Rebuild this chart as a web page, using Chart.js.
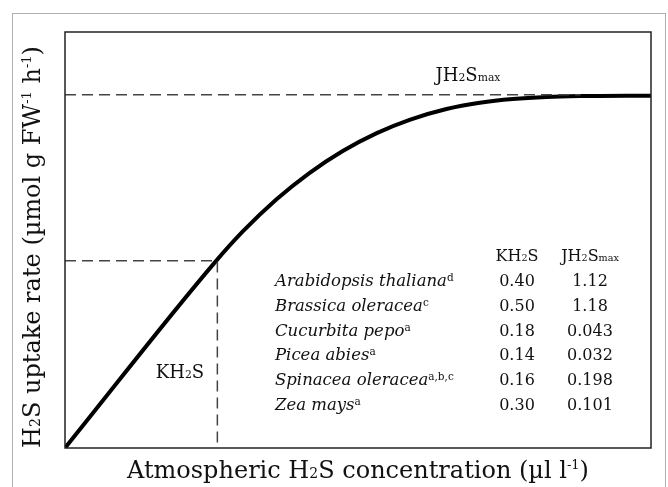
<!DOCTYPE html>
<html lang="en">
<head>
<meta charset="UTF-8">
<title>H2S uptake kinetics</title>
<script src="https://cdn.jsdelivr.net/npm/chart.js"></script>
<style>
  html, body { margin: 0; padding: 0; background: #fff; }
  #wrap { width: 668px; height: 487px; }
</style>
</head>
<body>
<div id="wrap"><canvas id="chart" width="668" height="487"></canvas></div>
<script>
// saturation curve (x and y in % of axis range)
const curveX = [0, 25.5, 30.3, 36.1, 41.7, 47.4, 53.2, 58.8, 65.1, 70.8, 76.4, 82.2, 87.9, 100];
const curveY = [0, 44.5, 52.0, 59.8, 66.1, 71.4, 75.7, 78.9, 81.5, 83.0, 83.9, 84.4, 84.6, 84.7];
const kmX = 26.0;
const kmY = 45.0;
const jmaxY = 84.9;
const jmaxDashEnd = 88;

// table of constants
const species = ['Arabidopsis thaliana', 'Brassica oleracea', 'Cucurbita pepo', 'Picea abies', 'Spinacea oleracea', 'Zea mays'];
const refs = ['d', 'c', 'a', 'a', 'a,b,c', 'a'];
const kValues = ['0.40', '0.50', '0.18', '0.14', '0.16', '0.30'];
const jValues = ['1.12', '1.18', '0.043', '0.032', '0.198', '0.101'];

const FONT = '"DejaVu Serif", "Liberation Serif", serif';

// draws a row of text pieces: [text, size, italic, dy]
function drawRuns(ctx, runs, x, y, align) {
    let total = 0;
    runs.forEach(r => {
        ctx.font = (r[2] ? 'italic ' : '') + r[1] + 'px ' + FONT;
        r.w = ctx.measureText(r[0]).width;
        total += r.w;
    });
    let cx = align === 'center' ? x - total / 2 : (align === 'right' ? x - total : x);
    runs.forEach(r => {
        ctx.font = (r[2] ? 'italic ' : '') + r[1] + 'px ' + FONT;
        ctx.textAlign = 'left';
        ctx.textBaseline = 'alphabetic';
        ctx.fillText(r[0], cx, y + (r[3] || 0));
        cx += r.w;
    });
}

function kLabel(s) { return [['KH', s], ['2', s * 0.6, false, 0], ['S', s]]; }
function jLabel(s) { return [['JH', s], ['2', s * 0.6, false, 0], ['S', s], ['max', s * 0.6, false, 0]]; }

const decorations = {
    id: 'decorations',
    beforeDraw(chart) {
        const ctx = chart.ctx;
        ctx.save();
        ctx.strokeStyle = '#b0b0b0';
        ctx.lineWidth = 1;
        ctx.strokeRect(12.5, 13.5, 653, 500);
        ctx.restore();
    },
    afterDraw(chart) {
        const ctx = chart.ctx;
        const a = chart.chartArea;
        ctx.save();
        ctx.strokeStyle = '#222';
        ctx.lineWidth = 1.5;
        ctx.strokeRect(a.left, a.top, a.right - a.left, a.bottom - a.top);
        ctx.fillStyle = '#111';

        // curve annotations
        drawRuns(ctx, jLabel(18), 468, 81, 'center');
        drawRuns(ctx, kLabel(18), 180, 378, 'center');

        // table
        const colK = 517, colJ = 590, left = 275;
        drawRuns(ctx, kLabel(16), colK, 261, 'center');
        drawRuns(ctx, jLabel(16), colJ, 261, 'center');
        species.forEach((sp, i) => {
            const y = 286 + i * 24.8;
            drawRuns(ctx, [[sp, 16.5, true], [refs[i], 10.5, false, -5]], left, y, 'left');
            drawRuns(ctx, [[kValues[i], 16]], colK, y, 'center');
            drawRuns(ctx, [[jValues[i], 16]], colJ, y, 'center');
        });

        // axis titles
        drawRuns(ctx, [['Atmospheric H', 24], ['2', 14, false, 0], ['S concentration (\u00b5l l', 24], ['-1', 13, false, -9], [')', 24]],
            (a.left + a.right) / 2, 478, 'center');
        ctx.translate(40, 247);
        ctx.rotate(-Math.PI / 2);
        drawRuns(ctx, [['H', 24], ['2', 14, false, 0], ['S uptake rate (\u00b5mol g FW', 24], ['-1', 13, false, -9],
            [' h', 24], ['-1', 13, false, -9], [')', 24]], 0, 0, 'center');
        ctx.restore();
    }
};

const pts = (xs, ys) => xs.map((x, i) => ({ x: x, y: ys[i] }));
const dashStyle = { borderColor: '#444', borderWidth: 1.5, borderDash: [11, 6], pointRadius: 0, showLine: true, fill: false };

new Chart(document.getElementById('chart').getContext('2d'), {
    type: 'scatter',
    data: {
        datasets: [
            Object.assign({ data: [{ x: 0, y: jmaxY }, { x: jmaxDashEnd, y: jmaxY }] }, dashStyle),
            Object.assign({ data: [{ x: 0, y: kmY }, { x: kmX, y: kmY }, { x: kmX, y: 0 }] }, dashStyle),
            { data: pts(curveX, curveY), borderColor: '#000', borderWidth: 4, pointRadius: 0, showLine: true,
              cubicInterpolationMode: 'monotone', fill: false }
        ]
    },
    options: {
        responsive: false,
        animation: false,
        layout: { padding: { left: 65, top: 32, right: 17, bottom: 39 } },
        scales: {
            x: { type: 'linear', min: 0, max: 100, display: false },
            y: { type: 'linear', min: 0, max: 100, display: false }
        },
        plugins: { legend: { display: false }, tooltip: { enabled: false }, title: { display: false } }
    },
    plugins: [decorations]
});
</script>
</body>
</html>
